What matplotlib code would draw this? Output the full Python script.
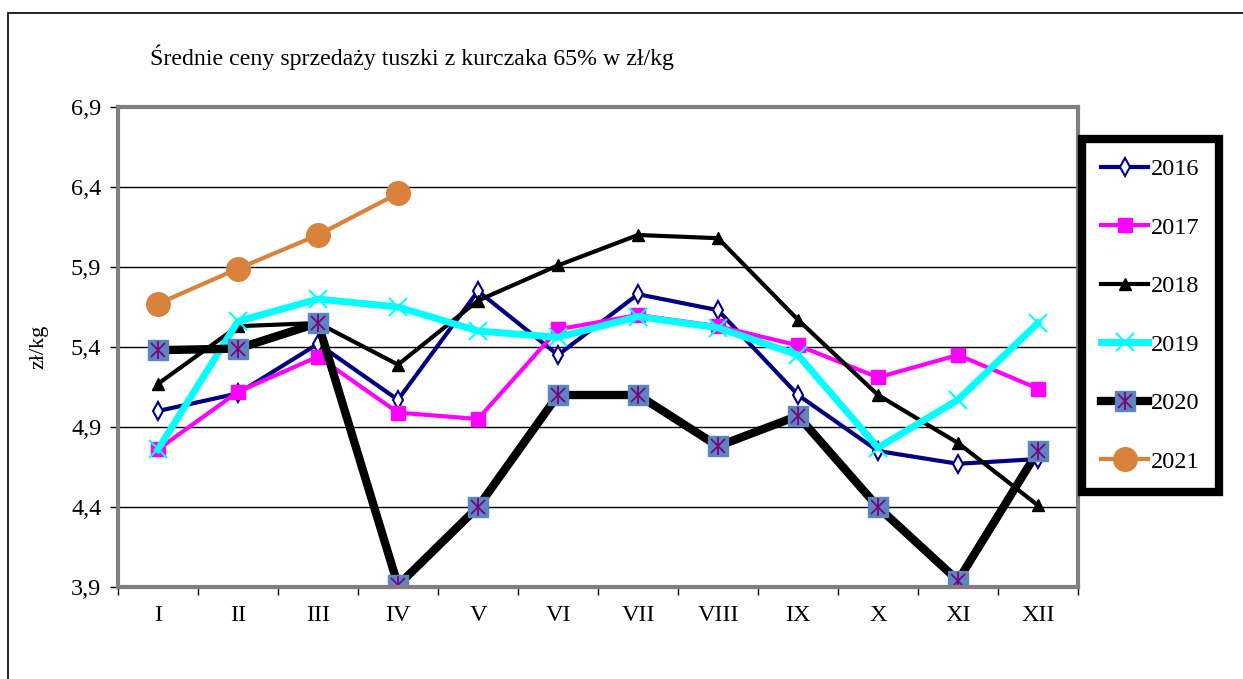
import matplotlib.pyplot as plt
from matplotlib.patches import Rectangle
from matplotlib.ticker import FuncFormatter

plt.rcParams["font.family"] = ["Liberation Serif", "DejaVu Serif"]

months = ["I", "II", "III", "IV", "V", "VI", "VII", "VIII", "IX", "X", "XI", "XII"]
p2016 = [5.00, 5.11, 5.42, 5.07, 5.75, 5.35, 5.73, 5.63, 5.10, 4.75, 4.67, 4.70]
p2017 = [4.76, 5.12, 5.34, 4.99, 4.95, 5.51, 5.60, 5.53, 5.41, 5.21, 5.35, 5.14]
p2018 = [5.17, 5.53, 5.55, 5.29, 5.69, 5.91, 6.10, 6.08, 5.57, 5.10, 4.80, 4.41]
p2019 = [4.76, 5.56, 5.70, 5.65, 5.50, 5.46, 5.59, 5.52, 5.35, 4.77, 5.07, 5.55]
p2020 = [5.38, 5.39, 5.55, 3.91, 4.40, 5.10, 5.10, 4.78, 4.97, 4.40, 3.94, 4.75]
p2021 = [5.67, 5.89, 6.10, 6.36]

x = list(range(1, 13))

fig = plt.figure(figsize=(12.43, 6.79), dpi=100)
ax = fig.add_axes([118 / 1243, 92 / 679, 960 / 1243, 480 / 679])

# outer chart border
fig.patches.append(Rectangle((8 / 1243, -0.1), 1.2, 1.1 - 13 / 679,
                             transform=fig.transFigure, fill=False,
                             edgecolor="black", linewidth=1.2))

l16, = ax.plot(x, p2016, color="#000080", lw=3, marker="d", ms=9,
               mfc="white", mec="#000080", mew=1.5, label="2016")
l17, = ax.plot(x, p2017, color="#FF00FF", lw=3, marker="s", ms=10,
               mfc="#FF00FF", mec="#FF00FF", label="2017")
l18, = ax.plot(x, p2018, color="black", lw=3, marker="^", ms=9,
               label="2018")
l19, = ax.plot(x, p2019, color="#00FFFF", lw=5, marker="x", ms=13,
               mew=1.5, label="2019")
l20, = ax.plot(x, p2020, color="black", lw=6, marker="s", ms=14,
               mfc="#5B87C0", mec="#5B87C0")
s20a, = ax.plot(x, p2020, ls="none", marker="x", ms=10, mec="#800080", mew=1.3)
s20b, = ax.plot(x, p2020, ls="none", marker="|", ms=13, mec="#800080", mew=1.3)
l21, = ax.plot(range(1, len(p2021) + 1), p2021, color="#D8823C", lw=3,
               marker="o", ms=17, label="2021")

ax.set_xlim(0.5, 12.5)
ax.set_ylim(3.9, 6.9)
ax.set_yticks([3.9, 4.4, 4.9, 5.4, 5.9, 6.4, 6.9])
ax.yaxis.set_major_formatter(FuncFormatter(lambda v, p: f"{v:.1f}".replace(".", ",")))
ax.grid(axis="y", color="black", lw=1)
ax.set_axisbelow(True)

ax.set_xticks(x)
ax.set_xticklabels(months)
ax.set_xticks([i + 0.5 for i in range(0, 13)], minor=True)
ax.tick_params(axis="x", which="major", length=0, pad=13, labelsize=17.5)
ax.tick_params(axis="x", which="minor", length=6, width=1, direction="out")
ax.tick_params(axis="y", length=6, width=1, direction="out", labelsize=17.5, pad=6)

for s in ax.spines.values():
    s.set_color("#808080")
    s.set_linewidth(3)

fig.text(39 / 1243, 1 - 347 / 679, "zł/kg", rotation=90, ha="center",
         va="center", fontsize=16)
fig.text(150 / 1243, 1 - 57 / 679, "Średnie ceny sprzedaży tuszki z kurczaka 65% w zł/kg",
         ha="left", va="center", fontsize=17.2)

handles = [l16, l17, l18, l19, (l20, s20a, s20b), l21]
labels = ["2016", "2017", "2018", "2019", "2020", "2021"]
leg = fig.legend(handles, labels, loc="upper left",
                 bbox_to_anchor=(1082 / 1243, 1 - 139 / 679),
                 fontsize=17.5, frameon=True, fancybox=False, framealpha=1,
                 edgecolor="black", handlelength=1.9, handletextpad=0.12,
                 labelspacing=1.5, borderpad=0.8, borderaxespad=0)
leg.get_frame().set_linewidth(6)

fig.savefig("out.png", dpi=100)
